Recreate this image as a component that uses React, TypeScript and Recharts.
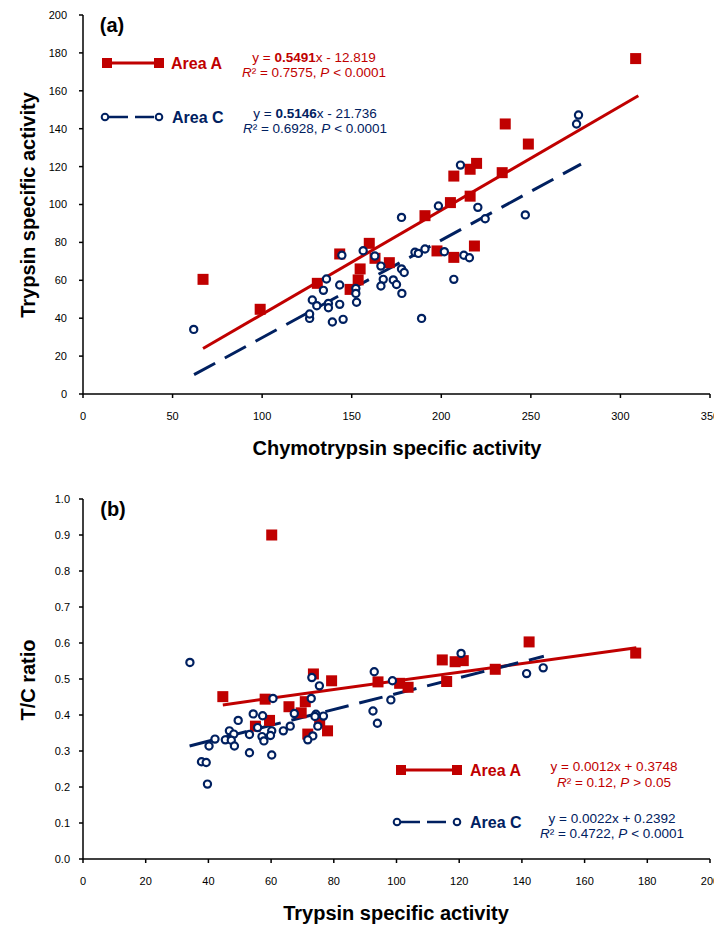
import { Scatter, ScatterChart, XAxis, YAxis } from 'recharts';

// Colours used by the original figure.
const RED = '#C00000';
const NAVY = '#002060';
const FONT = '"Liberation Sans", Arial, sans-serif';

// ---------------------------------------------------------------------------
// Panel (a): chymotrypsin (x) vs trypsin (y) specific activity
// ---------------------------------------------------------------------------
const chymoA = [
  67, 98.9, 130.8, 143.3, 149.1, 153.6, 154.7, 159.8, 163, 171, 190.9, 197.6,
  205.1, 207, 207, 216.1, 216.1, 218.5, 219.7, 234, 235.7, 248.6, 308.5,
];
const trypA = [
  60.5, 44.7, 58.4, 73.9, 55.2, 60.2, 66.0, 79.5, 71.6, 69.3, 94.1, 75.5,
  101, 72.1, 115, 104.4, 118.6, 78.1, 121.7, 116.8, 142.5, 131.9, 177,
];

const chymoC = [
  61.8, 126.5, 126.5, 128, 130.5, 134.2, 135.9, 137, 137, 139.2, 143.3, 143.3,
  145.2, 144.5, 152.3, 152.3, 152.7, 156.4, 162.9, 166.3, 167.6, 166.3, 173.2,
  175, 177.8, 179.3, 178, 177.8, 185.3, 187.2, 190.9, 189, 198.4, 201.7, 207,
  212.6, 215.7, 210.7, 220.4, 224.5, 246.9, 275.5, 276.6,
];
const trypC = [
  34.1, 39.9, 42.2, 49.6, 46.6, 54.7, 60.7, 47.8, 45.5, 38.0, 57.5, 47.3,
  39.4, 73.2, 55.7, 53.1, 48.4, 75.6, 72.8, 67.5, 60.5, 57.0, 60.2,
  57.8, 66.0, 64.1, 53.1, 93.2, 74.8, 74.2, 76.5, 39.9, 99.2, 75.1, 60.5,
  73.2, 71.9, 120.8, 98.5, 92.5, 94.5, 142.5, 147.2,
];

// Regression line end points (panel a)
const fitAxA = [67, 310];
const fitAyA = [24.0, 157.4];
const fitCxA = [62, 278];
const fitCyA = [10.2, 121.3];

const xTicksA = [0, 50, 100, 150, 200, 250, 300, 350];
const yTicksA = [0, 20, 40, 60, 80, 100, 120, 140, 160, 180, 200];

// ---------------------------------------------------------------------------
// Panel (b): trypsin specific activity (x) vs T/C ratio (y)
// ---------------------------------------------------------------------------
const trypBA = [
  60.2, 44.6, 58.1, 73.5, 55.0, 59.5, 65.7, 79.3, 70.9, 69.6, 94.1, 75.5,
  101.0, 71.7, 114.6, 103.7, 118.7, 78.0, 121.3, 116.0, 142.3, 131.5, 176.3,
];
const ratioBA = [
  0.9, 0.451, 0.444, 0.514, 0.369, 0.385, 0.423, 0.495, 0.437, 0.406, 0.492, 0.382,
  0.488, 0.347, 0.553, 0.477, 0.548, 0.356, 0.551, 0.493, 0.603, 0.527, 0.572,
];

const trypBC = [
  34.1, 40.2, 42.1, 49.5, 46.7, 54.3, 60.6, 48.1, 45.4, 37.8, 57.3, 47.3,
  39.3, 73.0, 55.7, 53.1, 48.3, 75.4, 72.8, 67.4, 60.2, 57.1, 59.8, 57.7,
  66.1, 63.9, 53.1, 92.9, 74.3, 74.0, 76.7, 39.7, 98.7, 74.9, 60.2, 73.3,
  71.7, 120.6, 98.2, 92.5, 93.9, 141.5, 146.8,
];
const ratioBC = [
  0.546, 0.314, 0.333, 0.385, 0.356, 0.403, 0.446, 0.347, 0.331, 0.270, 0.398, 0.330,
  0.268, 0.504, 0.365, 0.346, 0.314, 0.481, 0.446, 0.404, 0.356, 0.340, 0.343, 0.328,
  0.369, 0.356, 0.295, 0.520, 0.402, 0.396, 0.397, 0.208, 0.495, 0.369, 0.289, 0.342,
  0.331, 0.571, 0.442, 0.411, 0.377, 0.515, 0.531,
];

// Regression line end points (panel b)
const fitAxB = [44.6, 176.5];
const fitAyB = [0.428, 0.587];
const fitCxB = [34, 147];
const fitCyB = [0.314, 0.563];

const xTicksB = [0, 20, 40, 60, 80, 100, 120, 140, 160, 180, 200];
const yTicksB = [0, 0.1, 0.2, 0.3, 0.4, 0.5, 0.6, 0.7, 0.8, 0.9, 1.0];

const zip = (xs: number[], ys: number[]) => xs.map((x, i) => ({ x, y: ys[i] }));

const squareShape = (p: any) => (
  <rect x={p.cx - 5.5} y={p.cy - 5.5} width={11} height={11} fill={RED} />
);
const circleShape = (p: any) => (
  <circle cx={p.cx} cy={p.cy} r={3.6} fill="#fff" stroke={NAVY} strokeWidth={2.2} />
);
const noShape = () => <g />;

const TICK = { fontSize: 11, fill: '#000', fontFamily: FONT };
const AXIS_LINE = { stroke: '#000', strokeWidth: 1.5 };

function Panel(props: {
  top: number;
  height: number;
  marginTop: number;
  marginBottom: number;
  xMax: number;
  yMax: number;
  xTicks: number[];
  yTicks: number[];
  yTickMargin: number;
  yFormat?: (v: number) => string;
  a: { x: number; y: number }[];
  c: { x: number; y: number }[];
  fitA: { x: number; y: number }[];
  fitC: { x: number; y: number }[];
}) {
  return (
    <div style={{ position: 'absolute', left: 0, top: props.top }}>
      <ScatterChart
        width={714}
        height={props.height}
        margin={{ top: props.marginTop, right: 4, bottom: props.marginBottom, left: 33 }}
      >
        <XAxis
          type="number"
          dataKey="x"
          domain={[0, props.xMax]}
          ticks={props.xTicks}
          interval={0}
          height={30}
          tick={TICK}
          tickSize={4}
          tickMargin={14}
          axisLine={AXIS_LINE}
          tickLine={AXIS_LINE}
          allowDataOverflow
        />
        <YAxis
          type="number"
          dataKey="y"
          domain={[0, props.yMax]}
          ticks={props.yTicks}
          interval={0}
          width={50}
          tick={TICK}
          tickSize={4}
          tickMargin={props.yTickMargin}
          tickFormatter={props.yFormat}
          axisLine={AXIS_LINE}
          tickLine={AXIS_LINE}
          allowDataOverflow
        />
        <Scatter
          data={props.fitA}
          line={{ stroke: RED, strokeWidth: 3 }}
          shape={noShape}
          isAnimationActive={false}
        />
        <Scatter
          data={props.fitC}
          line={{ stroke: NAVY, strokeWidth: 3, strokeDasharray: '24 11' }}
          shape={noShape}
          isAnimationActive={false}
        />
        <Scatter data={props.a} shape={squareShape} isAnimationActive={false} />
        <Scatter data={props.c} shape={circleShape} isAnimationActive={false} />
      </ScatterChart>
    </div>
  );
}

function SwatchA({ x1, x2, y }: { x1: number; x2: number; y: number }) {
  return (
    <g>
      <line x1={x1} x2={x2} y1={y} y2={y} stroke={RED} strokeWidth={3} />
      <rect x={x1 - 5} y={y - 5} width={10} height={10} fill={RED} />
      <rect x={x2 - 5} y={y - 5} width={10} height={10} fill={RED} />
    </g>
  );
}

function SwatchC({ x1, x2, y }: { x1: number; x2: number; y: number }) {
  return (
    <g>
      <line
        x1={x1 + 4}
        x2={x2 - 2}
        y1={y}
        y2={y}
        stroke={NAVY}
        strokeWidth={2.5}
        strokeDasharray="19 7"
      />
      <circle cx={x1} cy={y} r={3.3} fill="#fff" stroke={NAVY} strokeWidth={2} />
      <circle cx={x2} cy={y} r={3.3} fill="#fff" stroke={NAVY} strokeWidth={2} />
    </g>
  );
}

export default function App() {
  const aA = zip(chymoA, trypA);
  const aC = zip(chymoC, trypC);
  const bA = zip(trypBA, ratioBA);
  const bC = zip(trypBC, ratioBC);

  const titleStyle = { fontFamily: FONT, fontWeight: 700, fontSize: 20 } as const;
  const eqStyle = { fontFamily: FONT, fontSize: 13.5 } as const;
  const nameStyle = { fontFamily: FONT, fontWeight: 700, fontSize: 16 } as const;

  return (
    <div
      style={{
        position: 'absolute',
        left: 0,
        top: 0,
        width: 714,
        height: 927,
        background: '#fff',
        overflow: 'hidden',
      }}
    >
      <Panel
        top={0}
        height={460}
        marginTop={15}
        marginBottom={36}
        xMax={350}
        yMax={200}
        xTicks={xTicksA}
        yTicks={yTicksA}
        yTickMargin={12}
        a={aA}
        c={aC}
        fitA={zip(fitAxA, fitAyA)}
        fitC={zip(fitCxA, fitCyA)}
      />
      <Panel
        top={480}
        height={447}
        marginTop={19}
        marginBottom={38}
        xMax={200}
        yMax={1}
        xTicks={xTicksB}
        yTicks={yTicksB}
        yTickMargin={9}
        yFormat={(v) => v.toFixed(1)}
        a={bA}
        c={bC}
        fitA={zip(fitAxB, fitAyB)}
        fitC={zip(fitCxB, fitCyB)}
      />

      {/* titles, panel letters and legends */}
      <svg
        width={714}
        height={927}
        style={{ position: 'absolute', left: 0, top: 0, pointerEvents: 'none' }}
      >
        <text x={112} y={25} style={titleStyle} textAnchor="middle" dominantBaseline="central">
          (a)
        </text>
        <text x={113} y={509} style={titleStyle} textAnchor="middle" dominantBaseline="central">
          (b)
        </text>

        <text
          x={28}
          y={205}
          transform="rotate(-90 28 205)"
          style={titleStyle}
          textAnchor="middle"
          dominantBaseline="central"
        >
          Trypsin specific activity
        </text>
        <text x={397} y={448} style={titleStyle} textAnchor="middle" dominantBaseline="central">
          Chymotrypsin specific activity
        </text>
        <text
          x={28}
          y={680}
          transform="rotate(-90 28 680)"
          style={titleStyle}
          textAnchor="middle"
          dominantBaseline="central"
        >
          T/C ratio
        </text>
        <text x={396} y={913} style={titleStyle} textAnchor="middle" dominantBaseline="central">
          Trypsin specific activity
        </text>

        {/* legend (a) */}
        <SwatchA x1={107} x2={159} y={63} />
        <text x={171} y={63} style={nameStyle} fill={RED} dominantBaseline="central">
          Area A
        </text>
        <text x={314} y={57} style={eqStyle} fill={RED} textAnchor="middle" dominantBaseline="central">
          y = <tspan fontWeight={700}>0.5491</tspan>x - 12.819
        </text>
        <text x={314} y={72} style={eqStyle} fill={RED} textAnchor="middle" dominantBaseline="central">
          <tspan fontStyle="italic">R</tspan>² = 0.7575, <tspan fontStyle="italic">P</tspan> {'<'} 0.0001
        </text>

        <SwatchC x1={105} x2={159} y={117} />
        <text x={172} y={117} style={nameStyle} fill={NAVY} dominantBaseline="central">
          Area C
        </text>
        <text x={315} y={113} style={eqStyle} fill={NAVY} textAnchor="middle" dominantBaseline="central">
          y = <tspan fontWeight={700}>0.5146</tspan>x - 21.736
        </text>
        <text x={315} y={128} style={eqStyle} fill={NAVY} textAnchor="middle" dominantBaseline="central">
          <tspan fontStyle="italic">R</tspan>² = 0.6928, <tspan fontStyle="italic">P</tspan> {'<'} 0.0001
        </text>

        {/* legend (b) */}
        <SwatchA x1={401} x2={457} y={770} />
        <text x={470} y={770} style={nameStyle} fill={RED} dominantBaseline="central">
          Area A
        </text>
        <text x={614} y={766} style={eqStyle} fill={RED} textAnchor="middle" dominantBaseline="central">
          y = 0.0012x + 0.3748
        </text>
        <text x={614} y={782} style={eqStyle} fill={RED} textAnchor="middle" dominantBaseline="central">
          <tspan fontStyle="italic">R</tspan>² = 0.12, <tspan fontStyle="italic">P</tspan> {'>'} 0.05
        </text>

        <SwatchC x1={397} x2={457} y={822} />
        <text x={470} y={822} style={nameStyle} fill={NAVY} dominantBaseline="central">
          Area C
        </text>
        <text x={612} y={818} style={eqStyle} fill={NAVY} textAnchor="middle" dominantBaseline="central">
          y = 0.0022x + 0.2392
        </text>
        <text x={612} y={833} style={eqStyle} fill={NAVY} textAnchor="middle" dominantBaseline="central">
          <tspan fontStyle="italic">R</tspan>² = 0.4722, <tspan fontStyle="italic">P</tspan> {'<'} 0.0001
        </text>
      </svg>
    </div>
  );
}
